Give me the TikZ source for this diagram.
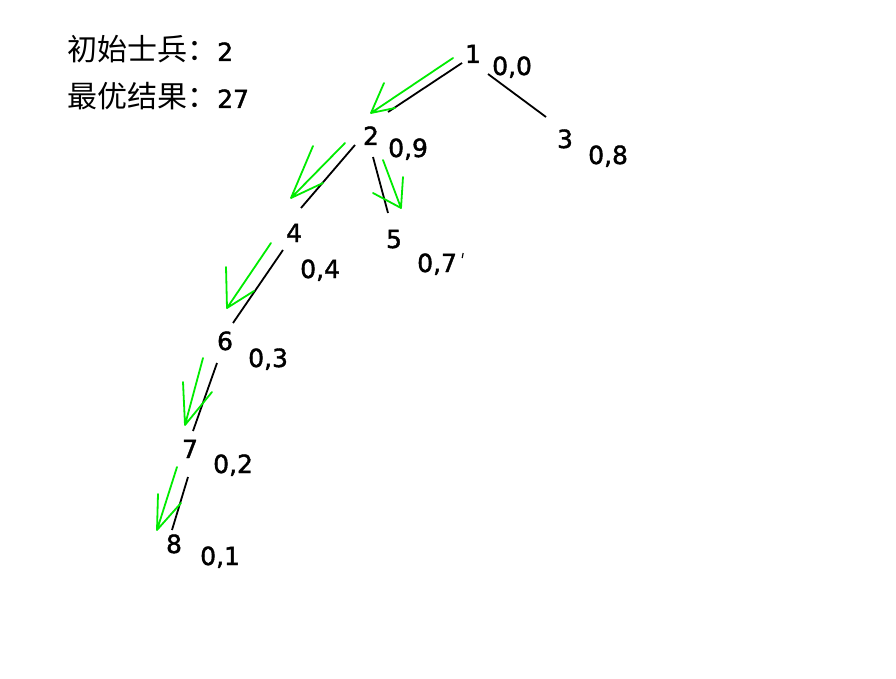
\documentclass[tikz,border=0pt]{standalone}
\usepackage{fontspec}
\setmainfont{DejaVu Sans}[FakeBold=1.6]
\newfontfamily\cjk{Noto Sans CJK SC}
\usetikzlibrary{calc}
\definecolor{walkgreen}{RGB}{0,235,0}

\begin{document}
\begin{tikzpicture}[
    x=1pt, y=-1pt,
    num/.style={inner sep=1pt, font=\fontsize{25}{30}\selectfont, anchor=base},
    cost/.style={inner sep=0pt, font=\fontsize{25}{30}\selectfont, anchor=base west},
    edge/.style={draw=black, line width=1.8pt},
    walk/.style={draw=walkgreen, line width=1.8pt, line cap=round, line join=round}]
  \useasboundingbox (0,0) rectangle (896,679);
  % header
  \node[cost] (start) at (67,61) {{\cjk\fontsize{30}{36}\selectfont 初始士兵：}2};
  \node[cost] (best) at (67,108) {{\cjk\fontsize{30}{36}\selectfont 最优结果：}27};
  % tree nodes and their values
  \node[num] (n1) at (473,63) {1};
  \node[cost] (c1) at (492,75) {0,0};
  \node[num] (n2) at (371,145) {2};
  \node[cost] (c2) at (388,157) {0,9};
  \node[num] (n3) at (565,148) {3};
  \node[cost] (c3) at (588,164) {0,8};
  \node[num] (n4) at (294,242) {4};
  \node[cost] (c4) at (300,278) {0,4};
  \node[num] (n5) at (394,248) {5};
  \node[cost] (c5) at (417,272) {0,7};
  \node[num] (n6) at (225,350) {6};
  \node[cost] (c6) at (248,367) {0,3};
  \node[num] (n7) at (190,458) {7};
  \node[cost] (c7) at (213,473) {0,2};
  \node[num] (n8) at (174,553) {8};
  \node[cost] (c8) at (200,565) {0,1};
  \draw[line width=1.2pt] ($(c5.base east)+(6,-19)$) -- ++(-1,5);
  % edges
  \draw[edge] ($(n1.base)+(-11,0)$) -- ($(n2.base)+(17,-33)$);
  \draw[edge] ($(n1.base)+(15,11)$) -- ($(n3.base)+(-19,-31)$);
  \draw[edge] ($(n2.base)+(2,12)$) -- ($(n5.base)+(-6,-35)$);
  \draw[edge] ($(n2.base)+(-16,0)$) -- ($(n4.base)+(7,-34)$);
  \draw[edge] ($(n4.base)+(-11,8)$) -- ($(n6.base)+(8,-27)$);
  \draw[edge] ($(n6.base)+(-8,13)$) -- ($(n7.base)+(3,-27)$);
  \draw[edge] ($(n7.base)+(-2,19)$) -- ($(n8.base)+(-2,-23)$);
  % search path
  \draw[walk] ($(n1.base)+(-20,-5)$) -- ($(n2.base)+(0,-32)$) coordinate (h12)
    -- ++(13,-30) (h12) -- ++(24,-5);
  \draw[walk] ($(n2.base)+(-26,-2)$) -- ($(n4.base)+(-3,-44)$) coordinate (h24)
    -- ++(22,-52) (h24) -- ++(32,-15);
  \draw[walk] ($(n2.base)+(12,15)$) -- ($(n5.base)+(7,-40)$) coordinate (h25)
    -- ++(2,-31) (h25) -- ++(-28,-15);
  \draw[walk] ($(n4.base)+(-23,1)$) -- ($(n6.base)+(2,-42)$) coordinate (h46)
    -- ++(-1,-41) (h46) -- ++(27,-17);
  \draw[walk] ($(n6.base)+(-22,8)$) -- ($(n7.base)+(-5,-33)$) coordinate (h67)
    -- ++(-2,-43) (h67) -- ++(27,-33);
  \draw[walk] ($(n7.base)+(-13,9)$) -- ($(n8.base)+(-17,-23)$) coordinate (h78)
    -- ++(1,-36) (h78) -- ++(24,-27);
\end{tikzpicture}
\end{document}
